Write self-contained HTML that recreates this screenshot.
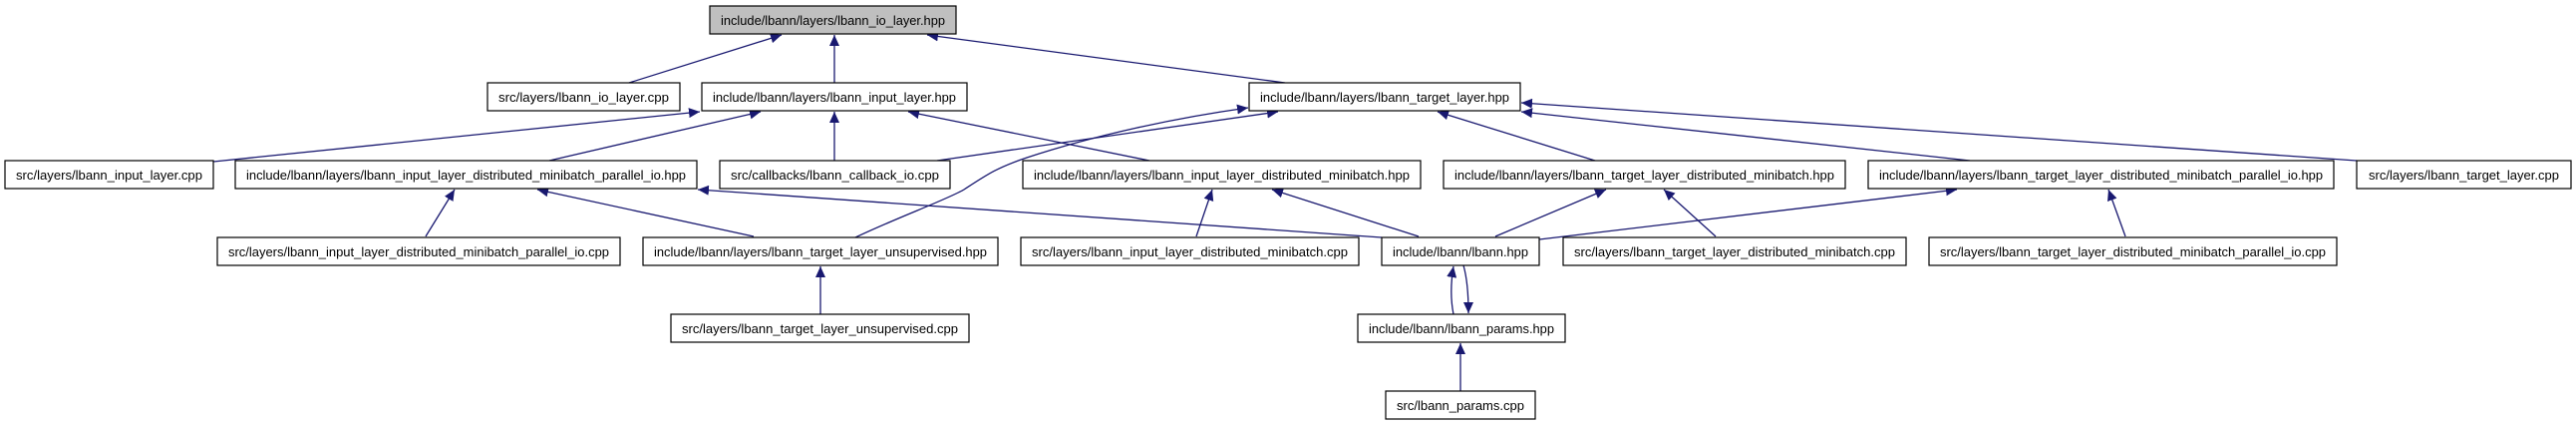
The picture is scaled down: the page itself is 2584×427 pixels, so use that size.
<!DOCTYPE html>
<html><head><meta charset="utf-8"><style>
html,body{margin:0;padding:0;background:#fff;}
svg{display:block;}
text{font-family:"Liberation Sans",sans-serif;font-size:13px;fill:#000;}
</style></head><body>
<svg width="2584" height="427" viewBox="0 0 2584 427" xmlns="http://www.w3.org/2000/svg">
<defs>
<marker id="a" markerUnits="userSpaceOnUse" markerWidth="12" markerHeight="10" refX="11" refY="5" orient="auto">
<path d="M0,0 L11,5 L0,10 z" fill="#191970"/>
</marker>
</defs>
<g stroke="#191970" stroke-width="1.3" fill="none" marker-end="url(#a)">
<line x1="631" y1="83" x2="784" y2="35"/>
<line x1="837" y1="83" x2="837" y2="35"/>
<line x1="1289" y1="83" x2="930" y2="35"/>
<line x1="214" y1="162" x2="702" y2="112"/>
<line x1="551" y1="161" x2="763" y2="112"/>
<line x1="837" y1="161" x2="837" y2="112"/>
<line x1="1153" y1="161" x2="911" y2="112"/>
<line x1="940" y1="161" x2="1282" y2="112"/>
<path d="M858,238 C900,218 950,200 967,190 C990,175 1000,168 1030,158 C1100,135 1180,118 1252,108"/>
<line x1="1600" y1="161" x2="1442" y2="112"/>
<line x1="1976" y1="161" x2="1526" y2="112"/>
<line x1="2364" y1="161" x2="1526" y2="103"/>
<line x1="1386" y1="238" x2="700" y2="190"/>
<line x1="427" y1="237" x2="456" y2="190"/>
<line x1="756" y1="237" x2="539" y2="190"/>
<line x1="1200" y1="237" x2="1216" y2="190"/>
<line x1="1423" y1="237" x2="1276" y2="190"/>
<line x1="1500" y1="237" x2="1611" y2="190"/>
<line x1="1721" y1="237" x2="1669" y2="190"/>
<line x1="1544" y1="240" x2="1963" y2="190"/>
<line x1="2132" y1="237" x2="2115" y2="190"/>
<line x1="823" y1="315" x2="823" y2="267"/>
<path d="M1458,315 C1455,300 1455,285 1458,267"/>
<path d="M1468,266 C1472,280 1473,295 1473,314"/>
<line x1="1465" y1="392" x2="1465" y2="344"/>
</g>
<g stroke="#000" stroke-width="1.2">
<rect x="712" y="6" width="247" height="28" fill="#bfbfbf"/>
<rect x="489" y="83" width="193" height="28" fill="#fff"/>
<rect x="704" y="83" width="266" height="28" fill="#fff"/>
<rect x="1253" y="83" width="272" height="28" fill="#fff"/>
<rect x="5" y="161" width="209" height="28" fill="#fff"/>
<rect x="236" y="161" width="463" height="28" fill="#fff"/>
<rect x="722" y="161" width="231" height="28" fill="#fff"/>
<rect x="1026" y="161" width="399" height="28" fill="#fff"/>
<rect x="1448" y="161" width="403" height="28" fill="#fff"/>
<rect x="1874" y="161" width="467" height="28" fill="#fff"/>
<rect x="2364" y="161" width="215" height="28" fill="#fff"/>
<rect x="218" y="238" width="404" height="28" fill="#fff"/>
<rect x="645" y="238" width="356" height="28" fill="#fff"/>
<rect x="1024" y="238" width="339" height="28" fill="#fff"/>
<rect x="1386" y="238" width="158" height="28" fill="#fff"/>
<rect x="1568" y="238" width="344" height="28" fill="#fff"/>
<rect x="1935" y="238" width="409" height="28" fill="#fff"/>
<rect x="673" y="315" width="299" height="28" fill="#fff"/>
<rect x="1362" y="315" width="208" height="28" fill="#fff"/>
<rect x="1390" y="392" width="150" height="28" fill="#fff"/>
</g>
<g text-anchor="middle">
<text x="835.5" y="25" textLength="225" lengthAdjust="spacingAndGlyphs">include/lbann/layers/lbann_io_layer.hpp</text>
<text x="585.5" y="102" textLength="171" lengthAdjust="spacingAndGlyphs">src/layers/lbann_io_layer.cpp</text>
<text x="837" y="102" textLength="244" lengthAdjust="spacingAndGlyphs">include/lbann/layers/lbann_input_layer.hpp</text>
<text x="1389" y="102" textLength="250" lengthAdjust="spacingAndGlyphs">include/lbann/layers/lbann_target_layer.hpp</text>
<text x="109.5" y="180" textLength="187" lengthAdjust="spacingAndGlyphs">src/layers/lbann_input_layer.cpp</text>
<text x="467.5" y="180" textLength="441" lengthAdjust="spacingAndGlyphs">include/lbann/layers/lbann_input_layer_distributed_minibatch_parallel_io.hpp</text>
<text x="837.5" y="180" textLength="209" lengthAdjust="spacingAndGlyphs">src/callbacks/lbann_callback_io.cpp</text>
<text x="1225.5" y="180" textLength="377" lengthAdjust="spacingAndGlyphs">include/lbann/layers/lbann_input_layer_distributed_minibatch.hpp</text>
<text x="1649.5" y="180" textLength="381" lengthAdjust="spacingAndGlyphs">include/lbann/layers/lbann_target_layer_distributed_minibatch.hpp</text>
<text x="2107.5" y="180" textLength="445" lengthAdjust="spacingAndGlyphs">include/lbann/layers/lbann_target_layer_distributed_minibatch_parallel_io.hpp</text>
<text x="2471.5" y="180" textLength="191" lengthAdjust="spacingAndGlyphs">src/layers/lbann_target_layer.cpp</text>
<text x="420" y="257" textLength="382" lengthAdjust="spacingAndGlyphs">src/layers/lbann_input_layer_distributed_minibatch_parallel_io.cpp</text>
<text x="823" y="257" textLength="334" lengthAdjust="spacingAndGlyphs">include/lbann/layers/lbann_target_layer_unsupervised.hpp</text>
<text x="1193.5" y="257" textLength="317" lengthAdjust="spacingAndGlyphs">src/layers/lbann_input_layer_distributed_minibatch.cpp</text>
<text x="1465" y="257" textLength="136" lengthAdjust="spacingAndGlyphs">include/lbann/lbann.hpp</text>
<text x="1740" y="257" textLength="322" lengthAdjust="spacingAndGlyphs">src/layers/lbann_target_layer_distributed_minibatch.cpp</text>
<text x="2139.5" y="257" textLength="387" lengthAdjust="spacingAndGlyphs">src/layers/lbann_target_layer_distributed_minibatch_parallel_io.cpp</text>
<text x="822.5" y="334" textLength="277" lengthAdjust="spacingAndGlyphs">src/layers/lbann_target_layer_unsupervised.cpp</text>
<text x="1466" y="334" textLength="186" lengthAdjust="spacingAndGlyphs">include/lbann/lbann_params.hpp</text>
<text x="1465" y="411" textLength="128" lengthAdjust="spacingAndGlyphs">src/lbann_params.cpp</text>
</g>
</svg>
</body></html>
